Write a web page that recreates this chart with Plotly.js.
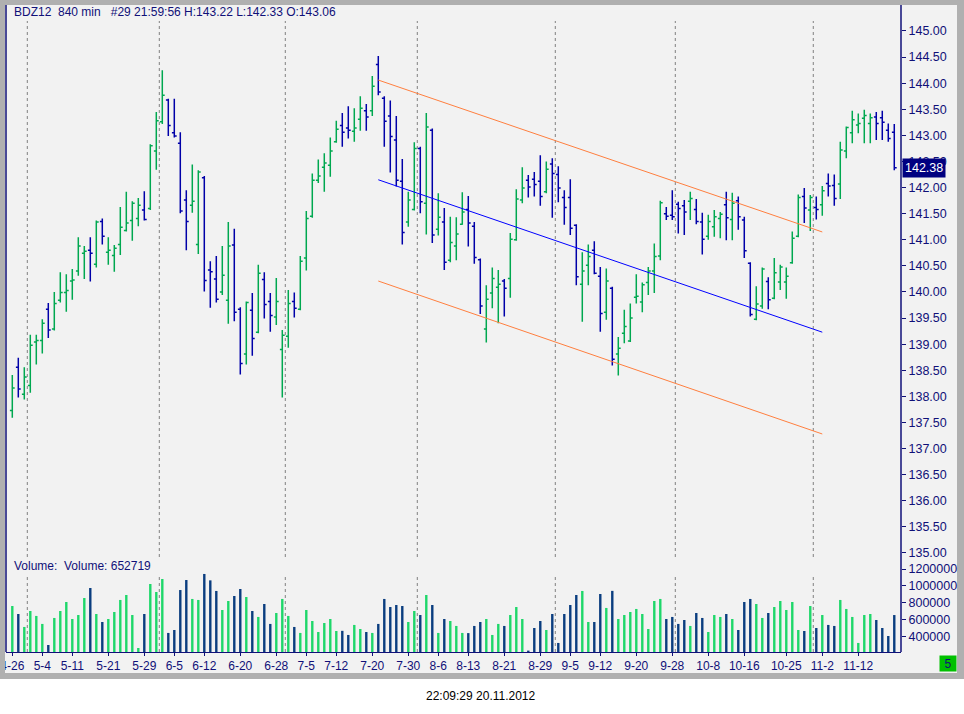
<!DOCTYPE html>
<html>
<head>
<meta charset="utf-8">
<script src="https://cdn.plot.ly/plotly-3.0.1.min.js"></script>
<style>
  html, body { margin: 0; padding: 0; background: #ffffff; }
  #frame { position: absolute; left: 0; top: 0; width: 964px; height: 679px; background: #b0b0b0; }
  #panel { position: absolute; left: 5px; top: 5px; width: 952px; height: 668px; background: #f2f2f2; }
  #edge  { position: absolute; left: 0; top: 0; width: 5px; height: 679px; background: #b0b0b0; z-index: 5; }
  #chart { position: absolute; left: 0; top: 0; width: 964px; height: 714px; }
</style>
</head>
<body>
<div id="frame"></div>
<div id="panel"></div>
<div id="chart"></div>
<div id="edge"></div>
<script>
/***********
  DATA
************/

// Trading days (month-day), one 840 min bar each
let dates = ['4-26','4-27','4-28',
  '5-2','5-3','5-4','5-7','5-8','5-9','5-10','5-11','5-14','5-15','5-16','5-17','5-18','5-21','5-22','5-23','5-24','5-25','5-28','5-29','5-30','5-31',
  '6-1','6-4','6-5','6-6','6-7','6-8','6-11','6-12','6-13','6-14','6-15','6-18','6-19','6-20','6-21','6-22','6-25','6-26','6-27','6-28','6-29',
  '7-2','7-3','7-4','7-5','7-6','7-9','7-10','7-11','7-12','7-13','7-16','7-17','7-18','7-19','7-20','7-23','7-24','7-25','7-26','7-27','7-30','7-31',
  '8-1','8-2','8-3','8-6','8-7','8-8','8-9','8-10','8-13','8-14','8-15','8-16','8-17','8-20','8-21','8-22','8-23','8-24','8-27','8-28','8-29','8-30','8-31',
  '9-3','9-4','9-5','9-6','9-7','9-10','9-11','9-12','9-13','9-14','9-17','9-18','9-19','9-20','9-21','9-24','9-25','9-26','9-27','9-28',
  '10-1','10-2','10-3','10-4','10-5','10-8','10-9','10-10','10-11','10-12','10-15','10-16','10-17','10-18','10-19','10-22','10-23','10-24','10-25','10-26','10-29','10-30','10-31',
  '11-1','11-2','11-5','11-6','11-7','11-8','11-9','11-12','11-13','11-14','11-15','11-16','11-19','11-20'];

let openPrice = [137.73,138.56,138.04,138.21,139.04,139.07,139.67,139.29,139.84,139.99,140.21,140.40,140.74,140.80,140.53,141.35,140.76,140.70,140.91,141.18,
  141.37,141.41,141.57,141.60,142.70,143.26,143.68,143.05,142.85,141.76,141.66,140.91,142.19,140.42,140.25,140.00,139.84,140.90,139.67,138.81,
  139.65,139.23,140.24,139.82,139.52,138.90,139.15,139.82,139.67,140.65,141.45,142.14,142.39,142.43,142.88,143.19,143.14,143.08,143.31,143.47,
  143.47,144.36,143.71,143.37,142.91,142.12,141.34,141.58,142.75,141.70,143.10,141.20,141.34,140.61,140.88,141.30,141.58,141.26,140.62,139.29,
  139.98,140.09,140.21,140.26,141.00,141.76,142.14,142.16,142.12,141.92,142.45,142.25,141.81,141.81,141.28,140.15,140.51,140.80,140.30,139.61,
  140.07,138.81,139.21,139.06,139.90,139.81,140.18,140.40,140.69,141.50,141.47,141.68,141.65,141.74,141.58,141.34,141.07,141.25,141.41,141.67,
  141.39,141.75,141.38,140.55,139.48,139.73,140.20,139.88,140.19,140.19,140.56,141.07,141.83,141.57,141.62,141.67,142.08,142.04,142.07,142.70,
  143.05,143.20,143.33,143.23,143.35,143.34,143.10,143.06];

let highPrice = [138.41,138.74,138.56,139.18,139.18,139.48,139.79,140.00,140.38,140.34,140.44,141.05,140.88,141.05,141.37,141.41,141.05,140.90,141.63,141.92,
  141.74,141.80,141.93,142.83,143.45,144.25,143.70,143.70,143.06,141.95,142.44,142.33,142.22,140.59,140.69,140.88,141.34,141.21,139.71,139.82,
  139.98,140.52,140.38,139.98,140.27,139.27,140.04,139.99,140.69,141.55,142.27,142.54,142.66,142.96,143.28,143.43,143.56,143.52,143.75,143.60,
  144.14,144.52,143.75,143.67,143.37,142.55,141.92,142.87,142.78,143.43,143.13,141.89,141.61,141.44,141.43,141.91,141.84,141.34,140.64,140.13,
  140.47,140.42,140.25,141.13,141.97,142.39,142.24,142.30,142.62,142.50,142.56,142.41,141.95,142.16,141.30,140.76,140.91,140.97,140.48,140.45,
  140.10,139.14,139.66,139.78,140.34,140.18,140.48,140.93,141.75,141.63,141.95,141.73,141.76,141.92,141.78,141.52,141.48,141.57,141.53,141.92,
  141.90,141.83,141.44,140.57,140.11,140.47,140.28,140.65,140.52,140.47,141.16,141.87,141.99,141.86,141.83,142.03,142.27,142.25,142.88,143.17,
  143.47,143.42,143.49,143.42,143.45,143.47,143.23,143.22];

let lowPrice = [137.59,137.98,137.94,138.07,138.61,138.82,139.12,139.26,139.80,139.62,139.85,140.31,140.25,140.20,140.47,140.91,140.52,140.39,140.71,141.16,
  140.98,141.26,141.37,141.57,142.34,143.22,142.99,142.96,141.51,140.80,141.52,140.73,140.01,139.70,139.80,139.94,139.39,139.44,138.42,138.61,
  138.78,139.21,139.49,139.24,139.37,137.98,138.93,139.51,139.65,140.41,141.42,142.09,141.92,142.21,142.86,142.78,142.94,142.88,143.09,143.09,
  143.37,143.77,142.78,142.29,142.02,140.91,141.25,141.56,141.51,141.10,140.94,141.08,140.42,140.57,140.61,141.29,140.87,140.54,139.58,139.03,
  139.69,139.40,139.53,139.89,140.98,141.70,141.81,141.83,141.65,141.89,141.42,141.72,141.29,141.09,140.13,139.43,140.13,140.34,139.24,139.47,
  138.59,138.40,139.02,139.04,139.78,139.61,139.94,139.98,140.61,141.38,141.38,141.12,141.09,141.38,141.30,140.72,141.00,141.06,141.03,140.99,
  140.99,141.19,140.65,139.53,139.46,139.68,139.67,139.86,140.04,139.87,140.54,141.05,141.32,141.17,141.39,141.46,141.83,141.65,141.78,142.56,
  142.85,143.04,142.85,142.85,142.91,142.91,142.88,142.33];

let closePrice = [138.16,138.14,138.37,138.98,139.07,139.40,139.27,139.78,139.99,140.03,140.23,140.88,140.78,140.74,141.34,141.07,140.80,140.84,141.24,141.32,
  141.70,141.66,141.39,142.80,143.28,143.77,143.19,142.99,141.55,141.35,141.74,142.30,140.22,140.39,139.86,140.32,140.88,139.61,138.63,139.80,
  139.11,140.36,139.76,139.55,139.82,139.17,139.78,139.69,140.59,141.41,142.14,142.22,142.47,142.70,143.12,143.06,143.10,143.14,143.52,143.35,
  143.94,143.83,143.27,142.98,142.14,141.14,141.76,142.75,141.73,143.16,141.09,141.43,140.57,140.95,141.11,141.53,141.32,140.66,139.73,139.86,
  140.26,140.15,140.07,141.01,141.78,141.99,142.01,142.06,141.83,142.35,142.27,141.99,141.62,141.22,140.29,140.40,140.68,140.36,139.59,140.21,
  138.71,138.92,139.34,139.50,139.92,140.14,140.40,140.68,141.71,141.45,141.44,141.60,141.53,141.79,141.35,141.01,141.35,141.44,141.49,141.42,
  141.70,141.44,140.79,139.57,139.77,140.44,139.85,140.37,140.48,140.30,141.03,141.81,141.61,141.81,141.58,141.94,142.03,141.79,142.72,143.15,
  143.30,143.23,143.38,143.34,143.23,143.25,142.94,142.38];

let volume = [760000,665000,511000,701000,642000,547000,297000,618000,701000,808000,606000,653000,855000,974000,665000,570000,606000,689000,832000,891000,
  653000,261000,665000,1022000,927000,1081000,440000,475000,950000,1069000,844000,832000,1141000,1065000,939000,713000,820000,879000,962000,867000,
  701000,630000,784000,547000,677000,844000,642000,511000,440000,713000,582000,451000,558000,606000,463000,465000,416000,535000,487000,451000,
  440000,547000,844000,748000,772000,760000,570000,701000,653000,891000,772000,440000,606000,582000,523000,440000,438000,523000,570000,606000,
  416000,547000,523000,653000,748000,606000,230000,499000,582000,475000,665000,321000,665000,772000,891000,939000,570000,570000,903000,737000,
  940000,606000,653000,689000,725000,665000,487000,820000,844000,606000,630000,547000,594000,523000,677000,618000,451000,653000,630000,665000,
  606000,475000,808000,844000,784000,618000,677000,748000,820000,713000,808000,475000,463000,760000,499000,653000,535000,523000,832000,725000,
  630000,321000,653000,665000,594000,499000,404000,652719];

// Tick labels on the date axis
let tickDates = ['4-26','5-4','5-11','5-21','5-29','6-5','6-12','6-20','6-28','7-5','7-12','7-20','7-30',
  '8-6','8-13','8-21','8-29','9-5','9-12','9-20','9-28','10-8','10-16','10-25','11-2','11-12'];

// Volume axis ticks
let volumeTicks = [400000, 600000, 800000, 1000000, 1200000];

// Regression channel drawn on the chart (start / end)
let channelDates = ['7-23', '11-2'];
let channelUpper = [144.06, 141.15];
let channelMiddle = [142.15, 139.23];
let channelLower = [140.21, 137.28];

let lastPrice = 142.38;

/***********
  FUNCTIONS
************/

const NAVY = '#101078';
const BAR_UP = '#00a850';
const BAR_DOWN = '#0000a8';
const VOL_UP = '#1ed76a';
const VOL_DOWN = '#0a3d7f';

// Pixel helpers for paper coordinates (plot area 6..901 x 17..652)
function px(x) { return (x - 6) / 895; }
function py(y) { return (652 - y) / 635; }

// Month boundaries, found from the dates list
function monthBreaks() {
  let breaks = [];
  for (let i = 1; i < dates.length; i++) {
    if (dates[i].split('-')[0] !== dates[i - 1].split('-')[0]) breaks.push(i - 0.5);
  }
  return breaks;
}

function drawChart() {
  let priceBars = {
    type: 'ohlc',
    x: dates,
    open: openPrice, high: highPrice, low: lowPrice, close: closePrice,
    increasing: {line: {color: BAR_UP, width: 1.5}},
    decreasing: {line: {color: BAR_DOWN, width: 1.5}},
    tickwidth: 0.4,
    hoverinfo: 'skip'
  };

  let volumeColors = closePrice.map((c, i) => c >= openPrice[i] ? VOL_UP : VOL_DOWN);
  let volumeBars = {
    type: 'bar',
    x: dates,
    y: volume,
    yaxis: 'y2',
    width: 0.4,
    marker: {color: volumeColors, line: {width: 0}},
    hoverinfo: 'skip'
  };

  function channelLine(values, color) {
    return {
      type: 'scatter', mode: 'lines',
      x: channelDates, y: values,
      line: {color: color, width: 1},
      hoverinfo: 'skip'
    };
  }

  let plotData = [
    priceBars,
    volumeBars,
    channelLine(channelUpper, '#ff7f3f'),
    channelLine(channelMiddle, '#0000ff'),
    channelLine(channelLower, '#ff7f3f')
  ];

  // Dotted month separators in both panels
  let shapes = [];
  monthBreaks().forEach(function (b) {
    [[py(557), py(21)], [0, py(575)]].forEach(function (seg) {
      shapes.push({type: 'line', xref: 'x', yref: 'paper', x0: b, x1: b, y0: seg[0], y1: seg[1],
        line: {color: '#808080', width: 1, dash: 'dot'}, layer: 'below'});
    });
  });
  // Left border and price scale line
  shapes.push({type: 'line', xref: 'paper', yref: 'paper', x0: 0, x1: 0, y0: 0, y1: py(5), line: {color: NAVY, width: 1.5}});
  shapes.push({type: 'line', xref: 'paper', yref: 'paper', x0: 1, x1: 1, y0: 0, y1: py(5), line: {color: NAVY, width: 1.5}});

  let annotations = [
    {xref: 'paper', yref: 'paper', x: px(12), y: py(12), xanchor: 'left', yanchor: 'middle', showarrow: false,
      text: 'BDZ12\u00a0\u00a0840 min\u00a0\u00a0\u00a0#29 21:59:56 H:143.22 L:142.33 O:143.06', font: {size: 12, color: NAVY}},
    {xref: 'paper', yref: 'paper', x: px(12), y: py(566), xanchor: 'left', yanchor: 'middle', showarrow: false,
      text: 'Volume:\u00a0\u00a0Volume: ' + volume[volume.length - 1], font: {size: 12, color: NAVY}},
    {xref: 'paper', yref: 'y', x: 1, y: lastPrice, xanchor: 'left', yanchor: 'middle', xshift: 1, showarrow: false,
      text: lastPrice.toFixed(2), bgcolor: '#000080', borderpad: 2, font: {size: 12.5, color: '#ffffff'}},
    {xref: 'paper', yref: 'paper', x: px(948), y: py(663.5), xanchor: 'center', yanchor: 'middle', showarrow: false,
      text: '5', bgcolor: '#00c000', width: 14, height: 13, font: {size: 12, color: NAVY}},
    {xref: 'paper', yref: 'paper', x: px(481), y: py(696), xanchor: 'center', yanchor: 'middle', showarrow: false,
      text: '22:09:29 20.11.2012', font: {size: 12, color: '#000000'}}
  ];

  let layout = {
    width: 964, height: 714,
    margin: {l: 6, r: 63, t: 17, b: 62},
    paper_bgcolor: 'rgba(0,0,0,0)',
    plot_bgcolor: 'rgba(0,0,0,0)',
    showlegend: false,
    font: {family: '"Liberation Sans", Arial, sans-serif', size: 12, color: NAVY},
    xaxis: {
      type: 'category', range: [-1.05, 148.12],
      tickvals: tickDates, ticktext: tickDates,
      ticks: 'outside', ticklen: 3, tickcolor: NAVY,
      showline: true, linecolor: NAVY, linewidth: 1,
      showgrid: false, zeroline: false, anchor: 'y2',
      rangeslider: {visible: false},
      tickfont: {size: 12, color: NAVY}
    },
    yaxis: {
      domain: [py(558), 1], range: [134.904, 145.268],
      side: 'right', tick0: 135, dtick: 0.5, tickformat: '.2f',
      ticks: 'outside', ticklen: 4, tickcolor: NAVY,
      showgrid: false, zeroline: false,
      tickfont: {size: 12.5, color: NAVY}
    },
    yaxis2: {
      domain: [0, py(563)], range: [213400, 1271300],
      side: 'right', tickvals: volumeTicks, tickformat: 'd',
      ticks: 'outside', ticklen: 4, tickcolor: NAVY,
      showgrid: false, zeroline: false,
      tickfont: {size: 12.5, color: NAVY}
    },
    shapes: shapes,
    annotations: annotations
  };

  Plotly.newPlot('chart', plotData, layout, {displayModeBar: false, staticPlot: true});
}

/***********
  INIT
************/
drawChart();
</script>
</body>
</html>
